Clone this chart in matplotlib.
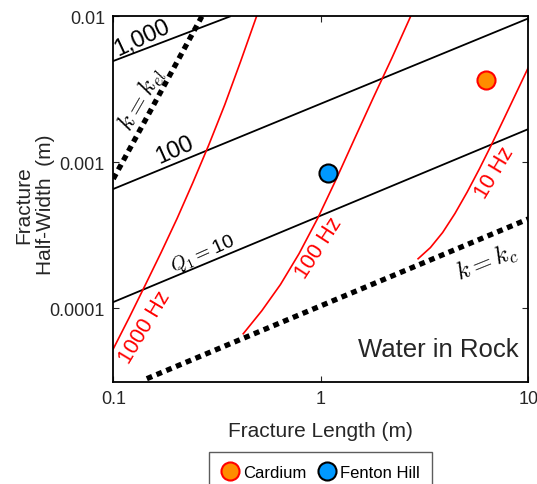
import matplotlib
matplotlib.use('Agg')
import matplotlib.pyplot as plt
import numpy as np

plt.rcParams['font.family'] = ['Liberation Sans', 'DejaVu Sans']
plt.rcParams['mathtext.fontset'] = 'cm'

# quality-factor lines (two end points each)
q10_x = [0.1, 10]
q10_y = [1.10e-4, 1.69e-3]
q100_x = [0.1, 10]
q100_y = [6.56e-4, 9.7e-3]
q1000_x = [0.1, 0.365]
q1000_y = [4.95e-3, 1.0e-2]

# permeability limit lines
kel_x = [0.1, 0.267]
kel_y = [7.69e-4, 1.0e-2]
kc_x = [0.145, 10]
kc_y = [3.28e-5, 4.09e-4]

# frequency contours
f1000_x = [0.100, 0.1194, 0.1422, 0.1698, 0.2028, 0.2415, 0.2884, 0.3443, 0.4102, 0.4898]
f1000_y = [5.26e-5, 8.63e-5, 1.43e-4, 2.40e-4, 4.11e-4, 7.23e-4, 1.315e-3, 2.48e-3,
           4.90e-3, 1.0e-2]
f100_x = [0.4227, 0.5194, 0.6385, 0.7848, 0.9647, 1.186, 1.458, 1.791, 2.202, 2.706]
f100_y = [6.67e-5, 9.59e-5, 1.45e-4, 2.36e-4, 4.12e-4, 7.66e-4, 1.465e-3, 2.78e-3,
          5.21e-3, 1.0e-2]
f10_x = [2.941, 3.371, 3.862, 4.425, 5.07, 5.81, 6.655, 7.625, 8.737, 10.0]
f10_y = [2.18e-4, 2.60e-4, 3.30e-4, 4.45e-4, 6.25e-4, 9.03e-4, 1.33e-3, 1.99e-3,
         2.99e-3, 4.48e-3]

# field sites
sites = ['Cardium', 'Fenton Hill']
site_x = [6.28, 1.077]
site_y = [3.66e-3, 8.45e-4]
site_face = ['#ff8c00', '#0099ff']
site_edge = ['red', 'black']

xticks = [0.1, 1, 10]
xtick_labels = ['0.1', '1', '10']
yticks = [0.0001, 0.001, 0.01]
ytick_labels = ['0.0001', '0.001', '0.01']

fig = plt.figure(figsize=(5.37, 4.85), dpi=100)
ax = fig.add_axes([0.211, 0.211, 0.773, 0.753])

for xs, ys in [(q10_x, q10_y), (q100_x, q100_y), (q1000_x, q1000_y)]:
    ax.plot(xs, ys, color='black', lw=1.3)
for xs, ys in [(kel_x, kel_y), (kc_x, kc_y)]:
    ax.plot(xs, ys, color='black', lw=3.8, dashes=(1.1, 0.9))
for xs, ys in [(f1000_x, f1000_y), (f100_x, f100_y), (f10_x, f10_y)]:
    ax.plot(xs, ys, color='red', lw=1.2)

for i in range(len(sites)):
    ax.plot(site_x[i], site_y[i], 'o', ms=13, mfc=site_face[i],
            mec=site_edge[i], mew=1.5, label=sites[i], ls='none')

ax.set_xscale('log')
ax.set_yscale('log')
ax.set_xlim(0.1, 10)
ax.set_ylim(3.13e-5, 1e-2)
ax.set_xticks(xticks)
ax.set_xticklabels(xtick_labels)
ax.set_yticks(yticks)
ax.set_yticklabels(ytick_labels)
ax.minorticks_off()
ax.tick_params(direction='in', top=True, right=True, length=4,
               labelsize=13, colors='#262626', pad=6)
for s in ax.spines.values():
    s.set_linewidth(1.3)

ax.set_xlabel('Fracture Length (m)', fontsize=15, color='#262626', labelpad=10)
ax.set_ylabel('Fracture\nHalf-Width  (m)', fontsize=15, color='#262626')
ax.yaxis.set_label_coords(-0.140, 0.486)

# annotations
ax.text(0.137, 7.2e-3, '1,000', fontsize=17, rotation=25, ha='center', va='center')
ax.text(0.197, 1.23e-3, '100', fontsize=17, rotation=24, ha='center', va='center')
ax.text(0.269, 2.39e-4, r'$Q_1=$10', fontsize=14, rotation=24, ha='center', va='center')
ax.text(0.137, 2.75e-3, r'$k=k_{el}$', fontsize=18, rotation=60, ha='center', va='center')
ax.text(6.28, 2.07e-4, r'$k=k_c$', fontsize=18, rotation=22, ha='center', va='center')
ax.text(0.142, 7.41e-5, '1000 Hz', fontsize=15.5, rotation=59, ha='center', va='center', color='red')
ax.text(0.975, 2.62e-4, '100 Hz', fontsize=15.5, rotation=57, ha='center', va='center', color='red')
ax.text(6.89, 8.63e-4, '10 Hz', fontsize=15.5, rotation=59, ha='center', va='center', color='red')
ax.text(0.977, 0.09, 'Water in Rock', fontsize=18.5, ha='right', va='center',
        color='#262626', transform=ax.transAxes)

fig.legend(loc='upper center', bbox_to_anchor=(0.5975, 0.0653), ncol=2, fontsize=12,
           frameon=True, fancybox=False, edgecolor='#333333', handletextpad=0.3,
           columnspacing=0.7, borderpad=0.75, handlelength=1.0, borderaxespad=0)

fig.savefig('out.png', dpi=100)
